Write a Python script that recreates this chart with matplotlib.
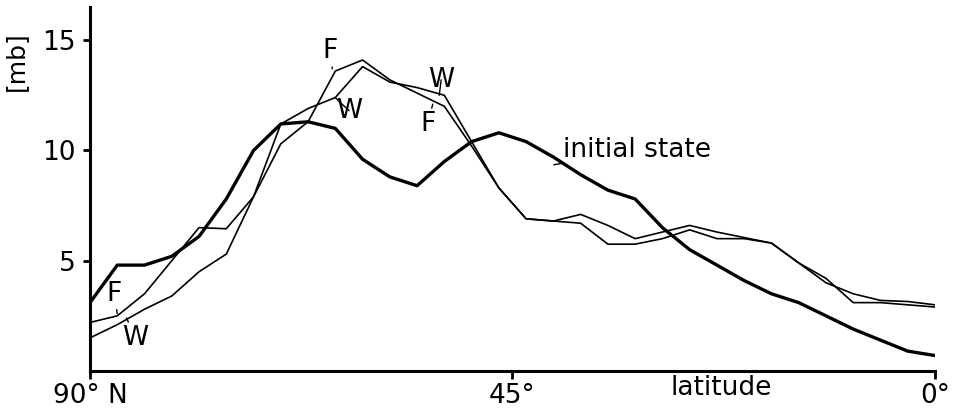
import matplotlib
matplotlib.use("Agg")
import matplotlib.pyplot as plt
import numpy as np

# latitude grid, 90N -> equator
lat = np.linspace(90, 0, 32)

initial = [3.1, 4.8, 4.8, 5.2, 6.1, 7.8, 10.0, 11.2, 11.3, 11.0, 9.6, 8.8,
           8.4, 9.5, 10.4, 10.8, 10.4, 9.7, 8.9, 8.2, 7.8, 6.5, 5.5, 4.8,
           4.1, 3.5, 3.1, 2.5, 1.9, 1.4, 0.9, 0.7]
run_f = [2.2, 2.5, 3.5, 5.0, 6.5, 6.45, 7.9, 10.3, 11.3, 13.6, 14.1, 13.2,
         12.6, 12.0, 10.2, 8.3, 6.9, 6.8, 6.7, 5.75, 5.75, 6.0, 6.4, 6.0,
         6.0, 5.8, 4.9, 4.2, 3.1, 3.1, 3.0, 2.9]
run_w = [1.5, 2.1, 2.8, 3.4, 4.5, 5.3, 7.9, 11.2, 11.9, 12.4, 13.8, 13.1,
         12.85, 12.5, 10.4, 8.3, 6.9, 6.8, 7.1, 6.6, 6.0, 6.3, 6.6, 6.3,
         6.05, 5.8, 4.9, 4.0, 3.5, 3.2, 3.15, 3.0]

yticks = [5, 10, 15]
xticks = [90, 45, 0]
xticklabels = ["90° N", "45°", "0°"]

fs = 19
fig = plt.figure(figsize=(9.6, 4.19), dpi=100)
ax = fig.add_axes([0.09375, 0.1146, 0.8802, 0.8685])

ax.plot(lat, initial, color="black", lw=2.4, solid_joinstyle="round")
ax.plot(lat, run_f, color="black", lw=1.2)
ax.plot(lat, run_w, color="black", lw=1.2)

ax.set_xlim(90, 0)
ax.set_ylim(0, 16.5)
ax.set_xticks(xticks)
ax.set_xticklabels(xticklabels, fontsize=fs)
ax.set_yticks(yticks)
ax.set_yticklabels([str(v) for v in yticks], fontsize=fs)
ax.tick_params(axis="y", direction="out", length=5, width=2, pad=5)
ax.tick_params(axis="x", direction="out", length=6, width=2, pad=3)

for s in ["top", "right"]:
    ax.spines[s].set_visible(False)
for s in ["left", "bottom"]:
    ax.spines[s].set_linewidth(2.2)

fig.text(0.017, 0.855, "[mb]", rotation=90, fontsize=fs - 1, ha="center", va="center")
ax.text(22.8, -0.75, "latitude", fontsize=fs, ha="center", va="center")

lead = dict(arrowstyle="-", lw=1.0, color="black", shrinkA=0, shrinkB=0)
labels = [
    ("F", (87.1, 2.6), (87.4, 3.5)),
    ("W", (86.1, 2.4), (85.2, 1.5)),
    ("F", (64.2, 13.7), (64.4, 14.5)),
    ("W", (63.9, 12.4), (62.4, 11.8)),
    ("W", (52.8, 12.5), (52.6, 13.2)),
    ("F", (53.5, 12.1), (54.0, 11.2)),
]
for txt, xy, xyt in labels:
    ax.annotate(txt, xy=xy, xytext=xyt, fontsize=fs, ha="center", va="center",
                arrowprops=lead)

ax.annotate("initial state", xy=(40.6, 9.35), xytext=(39.6, 10.0), fontsize=fs,
            ha="left", va="center", arrowprops=lead)

fig.savefig("out.png", dpi=100)
